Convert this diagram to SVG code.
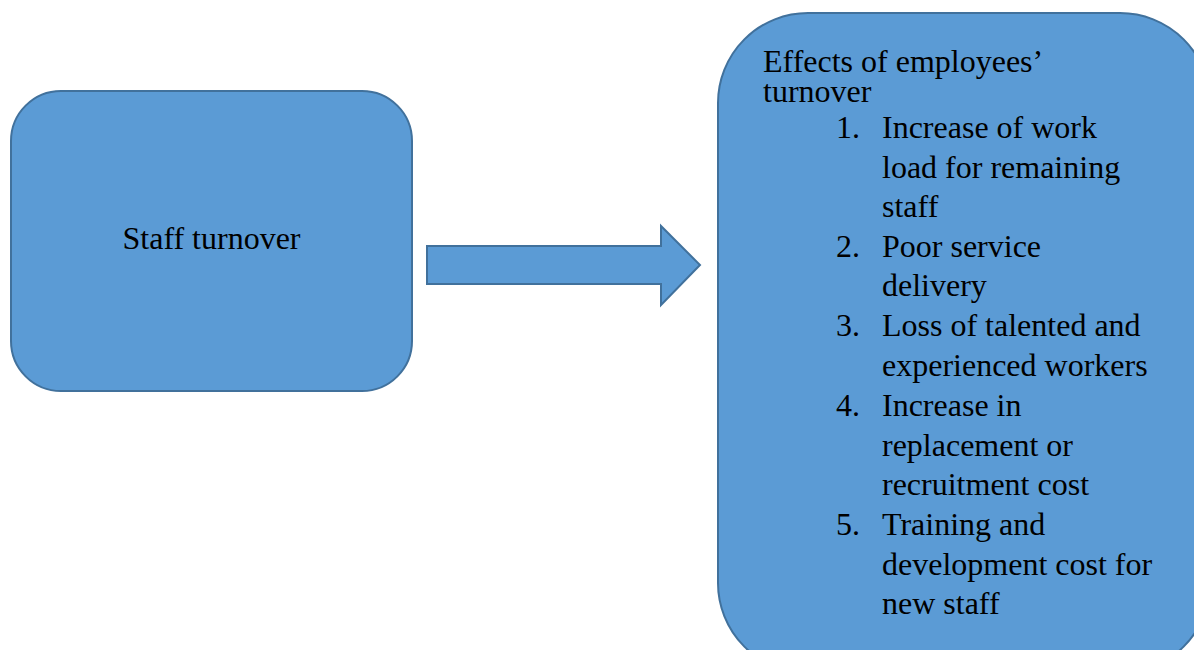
<svg xmlns="http://www.w3.org/2000/svg" width="1194" height="650" viewBox="0 0 1194 650">
<style>
.box{fill:#5B9BD5;stroke:#41719C;stroke-width:2}
.t{font-family:"Liberation Serif","Times New Roman",serif;font-size:32px;fill:#000}
</style>
<rect x="0" y="0" width="1194" height="650" fill="#FFFFFF"/>
<g id="node-staff">
<rect class="box" x="11" y="91" width="401" height="300" rx="50" ry="50"/>
<text class="t" x="211.5" y="249" text-anchor="middle">Staff turnover</text>
</g>
<g id="connectors">
<path class="box" d="M427,246 L661,246 L661,226 L700,265 L661,305 L661,284 L427,284 Z"/>
</g>
<g id="node-effects">
<rect class="box" x="718" y="13" width="492" height="660" rx="90" ry="90"/>
<text class="t" x="763" y="72">Effects of employees’</text>
<text class="t" x="763" y="102">turnover</text>
<text class="t" x="836" y="138">1.</text>
<text class="t" x="882" y="138">Increase of work</text>
<text class="t" x="882" y="178">load for remaining</text>
<text class="t" x="882" y="217">staff</text>
<text class="t" x="836" y="257">2.</text>
<text class="t" x="882" y="257">Poor service</text>
<text class="t" x="882" y="296">delivery</text>
<text class="t" x="836" y="336">3.</text>
<text class="t" x="882" y="336">Loss of talented and</text>
<text class="t" x="882" y="376">experienced workers</text>
<text class="t" x="836" y="416">4.</text>
<text class="t" x="882" y="416">Increase in</text>
<text class="t" x="882" y="456">replacement or</text>
<text class="t" x="882" y="495">recruitment cost</text>
<text class="t" x="836" y="535">5.</text>
<text class="t" x="882" y="535">Training and</text>
<text class="t" x="882" y="575">development cost for</text>
<text class="t" x="882" y="614">new staff</text>
</g>
</svg>
